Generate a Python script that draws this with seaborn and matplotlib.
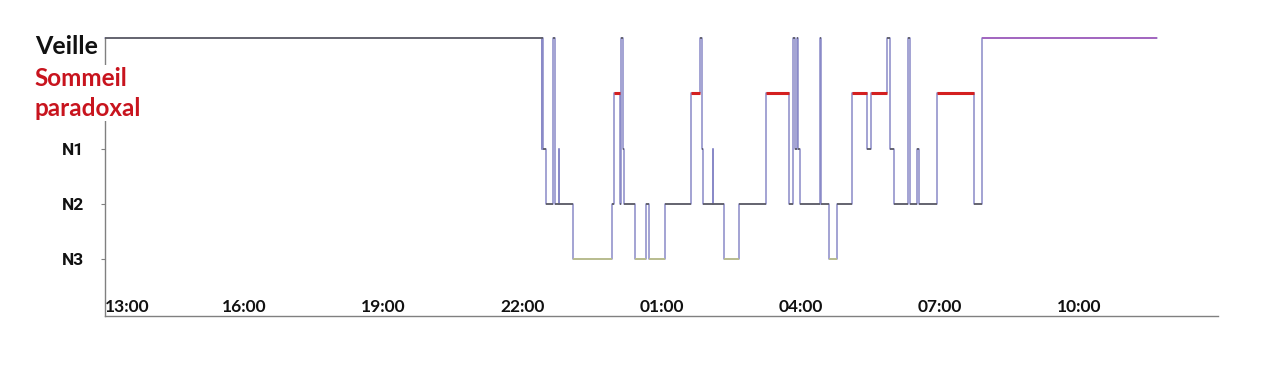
import matplotlib
matplotlib.use("Agg")
import matplotlib.pyplot as plt
import matplotlib.transforms as mtransforms
import seaborn as sns
import pandas as pd

# ---------------- data ----------------
start_times = ["13:00", "22:25", "22:26", "22:27", "22:30", "22:40", "22:42", "22:47", "22:48",
               "23:06", "23:56", "23:59", "00:06", "00:08", "00:10", "00:12", "00:26", "00:40",
               "00:44", "01:04", "01:38", "01:50", "01:53", "01:54", "02:06", "02:07", "02:21",
               "02:40", "03:15", "03:45", "03:50", "03:53", "03:55", "03:56", "03:59", "04:25",
               "04:26", "04:37", "04:47", "05:07", "05:26", "05:31", "05:52", "05:56", "06:01",
               "06:19", "06:21", "06:31", "06:33", "06:56", "07:44", "07:55"]
stages = ["W", "N1", "W", "N1", "N2", "W", "N2", "N1", "N2",
          "N3", "N2", "REM", "N2", "W", "N1", "N2", "N3", "N2",
          "N3", "N2", "REM", "W", "N1", "N2", "N1", "N2", "N3",
          "N2", "REM", "N2", "W", "N1", "W", "N1", "N2", "W",
          "N2", "N3", "N2", "REM", "N1", "REM", "W", "N1", "N2",
          "W", "N2", "N1", "N2", "REM", "N2", "W"]
end_time = "11:41"

stage_levels = {"N3": 0, "N2": 1, "N1": 2, "REM": 3, "W": 4}
ytick_labels = ["N3", "N2", "N1"]
xtick_labels = ["13:00", "16:00", "19:00", "22:00", "01:00", "04:00", "07:00", "10:00"]


def to_hours(s):
    hh, mm = map(int, s.split(":"))
    return (hh + mm / 60.0 - 13) % 24


starts = [to_hours(s) for s in start_times]
ends = starts[1:] + [to_hours(end_time)]
levels = [stage_levels[s] for s in stages]

df = pd.DataFrame({"t": starts + [ends[-1]], "level": levels + [levels[-1]]})

# ---------------- figure ----------------
sns.set_style("white")
plt.rcParams["font.family"] = ["Lato", "DejaVu Sans"]

W, H = 1280, 381
fig = plt.figure(figsize=(12.8, 3.81), dpi=100)
ax = fig.add_axes([105 / W, 1 - 316 / H, (1218 - 105) / W, (316 - 38) / H])

# step line (transitions)
sns.lineplot(data=df, x="t", y="level", drawstyle="steps-post", color="#8a8ac8",
             lw=1.1, estimator=None, sort=False, ax=ax, clip_on=False, zorder=2)

# horizontal segments coloured by stage
seg_colors = []
seg_widths = []
for i, s in enumerate(stages):
    if s == "REM":
        seg_colors.append("#d42020"); seg_widths.append(2.2)
    elif s == "N3":
        seg_colors.append("#bcc08a"); seg_widths.append(1.3)
    elif s == "W" and i == len(stages) - 1:
        seg_colors.append("#a35cbc"); seg_widths.append(1.2)
    else:
        seg_colors.append("#555555"); seg_widths.append(1.1)
ax.hlines(levels, starts, ends, colors=seg_colors, linewidths=seg_widths,
          zorder=3, clip_on=False)

ax.set_xlim(0, 24)
ax.set_ylim(-1.03, 4)
ax.set_xlabel("")
ax.set_ylabel("")

for side in ["top", "right"]:
    ax.spines[side].set_visible(False)
for side in ["left", "bottom"]:
    ax.spines[side].set_color("#808080")
    ax.spines[side].set_linewidth(1.0)

# x axis: labels above the axis line, small ticks every 2 hours
ax.set_xticks([0, 3, 6, 9, 12, 15, 18, 21], xtick_labels)
ax.set_xticks(list(range(0, 25, 2)), minor=True)
ax.tick_params(axis="x", which="major", length=0, pad=-12.5, labelsize=12.5)
ax.tick_params(axis="x", which="minor", length=3, color="#808080", width=0.8)
for lab in ax.get_xticklabels():
    lab.set_fontweight("bold")
    lab.set_color("#111111")
ax.get_xticklabels()[0].set_horizontalalignment("left")

# y axis
ax.set_yticks([0, 1, 2], ytick_labels)
ax.tick_params(axis="y", which="major", length=3, color="#808080", width=0.8,
               pad=12, labelsize=12.5, left=True)
for lab in ax.get_yticklabels():
    lab.set_fontweight("bold")
    lab.set_family(["Roboto", "DejaVu Sans"])
    lab.set_color("#111111")

trans = mtransforms.blended_transform_factory(ax.transAxes, ax.transData)
ax.text(-7 / 1113, 3.71, "Veille", transform=trans, ha="right", va="baseline",
        fontsize=18, fontweight="bold", color="#111111", clip_on=False)
ax.text(-71 / 1113, 3.0, "Sommeil\nparadoxal", transform=trans, ha="left", va="center",
        fontsize=17.5, fontweight="bold", color="#c8141e", linespacing=1.35,
        clip_on=False, zorder=5,
        bbox=dict(facecolor="white", edgecolor="none", pad=1))

fig.savefig("out.png", dpi=100)
